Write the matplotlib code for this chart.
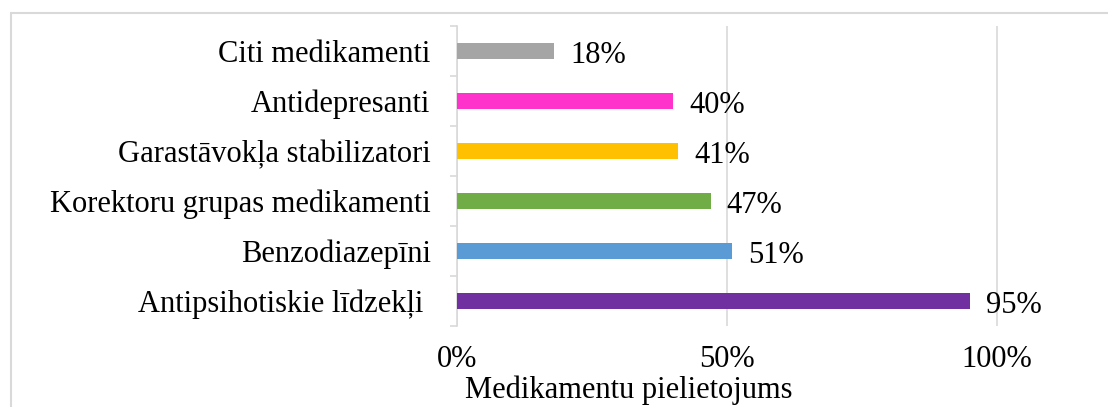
import numpy as np
import matplotlib
matplotlib.use("Agg")
import matplotlib.pyplot as plt
from matplotlib.patches import Rectangle
from matplotlib.ticker import FuncFormatter, FixedLocator

# data, top to bottom as in the chart
categories = [
    "Citi medikamenti",
    "Antidepresanti",
    "Garastāvokļa stabilizatori",
    "Korektoru grupas medikamenti",
    "Benzodiazepīni",
    "Antipsihotiskie līdzekļi ",
]
values = [0.18, 0.40, 0.41, 0.47, 0.51, 0.95]
colors = ["#A5A5A5", "#FF33CC", "#FFC000", "#70AD47", "#5B9BD5", "#7030A0"]
x_ticks = [0.0, 0.5, 1.0]
x_label = "Medikamentu pielietojums"

GRID = "#D9D9D9"
FS = 22

plt.rcParams.update({
    "font.family": ["Liberation Serif", "DejaVu Serif"],
    "font.size": FS,
    "text.color": "#000000",
})

fig = plt.figure(figsize=(11.08, 4.07), dpi=100)
W, H = 1108, 407
ax_left, ax_right, ax_top, ax_bottom = 457, 1105, 26, 326
ax = fig.add_axes([ax_left / W, 1 - ax_bottom / H,
                   (ax_right - ax_left) / W, (ax_bottom - ax_top) / H])

y = np.arange(len(categories))
ax.barh(y, values, height=0.33, color=colors, zorder=3)
for yi, v in zip(y, values):
    ax.annotate(f"{v * 100:.0f}%", xy=(v, yi), xytext=(11.5, -3),
                textcoords="offset points", va="center", ha="left",
                fontsize=FS)

ax.set_xlim(0, 1.2)
ax.set_ylim(len(categories) - 0.5, -0.5)

ax.xaxis.set_major_locator(FixedLocator(x_ticks))
ax.xaxis.set_major_formatter(FuncFormatter(lambda x, _: f"{x * 100:.0f}%"))
ax.tick_params(axis="x", length=0, pad=14, labelsize=FS)
ax.grid(axis="x", color=GRID, lw=1.2, zorder=0)

ax.set_yticks(y)
ax.set_yticklabels(categories)
ax.set_yticks(np.arange(len(categories) + 1) - 0.5, minor=True)
ax.tick_params(axis="y", which="major", length=0, pad=19, labelsize=FS)
ax.tick_params(axis="y", which="minor", length=5, width=1.2, color=GRID)

for s in ["top", "right", "bottom"]:
    ax.spines[s].set_visible(False)
ax.spines["left"].set_color(GRID)
ax.spines["left"].set_linewidth(1.2)

ax.set_xlabel(x_label, fontsize=FS)
ax.xaxis.label.set_va("center")
ax.xaxis.set_label_coords((629 - ax_left) / (ax_right - ax_left),
                          -(390 - ax_bottom) / (ax_bottom - ax_top))

# chart frame (right and bottom edges fall outside the image)
fig.patches.append(Rectangle((11 / W, -0.2), 1.2, 1 - 13 / H + 0.2,
                             transform=fig.transFigure, fill=False,
                             edgecolor=GRID, lw=1.5))

fig.savefig("out.png", dpi=100, facecolor="white")
